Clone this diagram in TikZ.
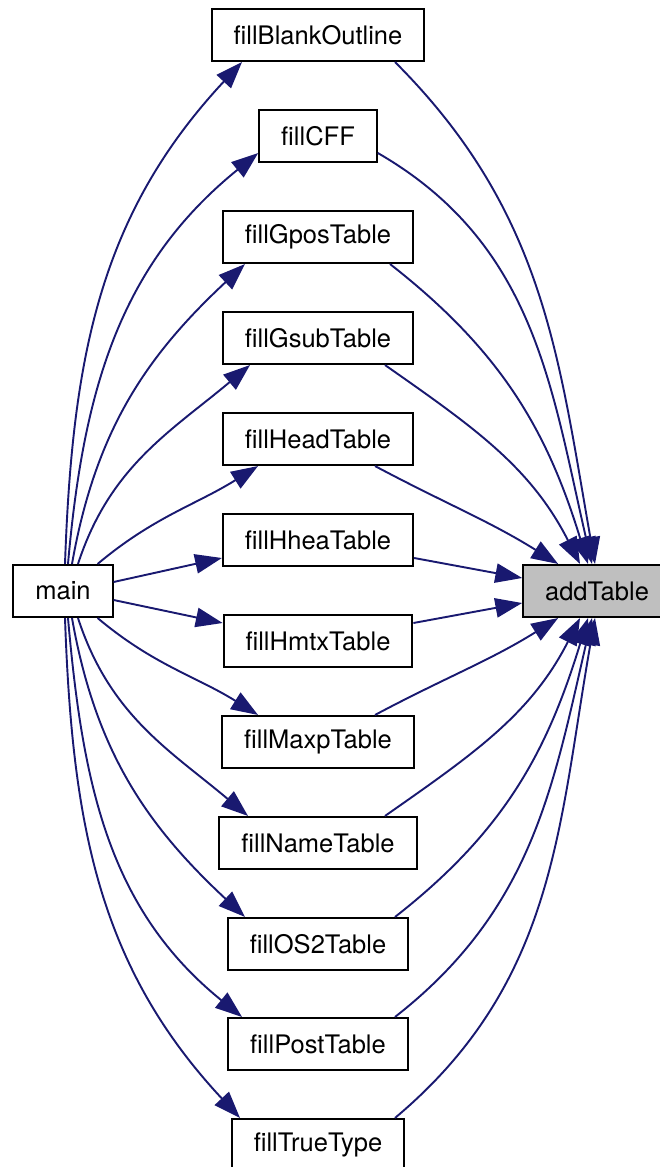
\documentclass[tikz,border=0pt]{standalone}
\usepackage{fontspec}
\setmainfont{TeX Gyre Heros}
\usetikzlibrary{arrows.meta,calc}
\definecolor{edgeblue}{HTML}{191970}
\definecolor{hlgray}{HTML}{BFBFBF}
\begin{document}
\begin{tikzpicture}
  [x=0.392pt,y=0.392pt,
  fn/.style={draw,line width=0.8pt,inner xsep=8.6pt,inner ysep=0pt,
    minimum height=20.4pt,font=\fontsize{10}{12}\selectfont},
  hl/.style={fn,fill=hlgray},
  call/.style={draw=edgeblue,line width=0.75pt,
    -{Triangle[length=10.5pt,width=7.6pt]}}]
  \useasboundingbox (0,0) rectangle (660,-1167);
  % caller, callee
  \node[fn] (main) at (63,-591) {main};
  \node[hl] (addTable) at (597,-591) {addTable};
  % middle column
  \node[fn] (fillBlankOutline) at (318,-35) {fillBlankOutline};
  \node[fn] (fillCFF) at (318,-136) {fillCFF};
  \node[fn] (fillGposTable) at (318,-237) {fillGposTable};
  \node[fn] (fillGsubTable) at (318,-338) {fillGsubTable};
  \node[fn] (fillHeadTable) at (318,-439) {fillHeadTable};
  \node[fn] (fillHheaTable) at (318,-540) {fillHheaTable};
  \node[fn] (fillHmtxTable) at (318,-641) {fillHmtxTable};
  \node[fn] (fillMaxpTable) at (318,-742) {fillMaxpTable};
  \node[fn] (fillNameTable) at (318,-843) {fillNameTable};
  \node[fn] (fillOS2Table) at (318,-944) {fillOS2Table};
  \node[fn] (fillPostTable) at (318,-1044) {fillPostTable};
  \node[fn] (fillTrueType) at (318,-1145) {fillTrueType};
  % main -> fill*
  \draw[call] ($(main.north)+(2,0)$) to[out=88,in=227] ($(fillBlankOutline.south)+(-76,0)$);
  \draw[call] ($(main.north)+(5,0)$) to[out=85,in=219] ($(fillCFF.west)+(0,-17)$);
  \draw[call] ($(main.north)+(9,0)$) to[out=80,in=223] ($(fillGposTable.south)+(-73,0)$);
  \draw[call] ($(main.north)+(15,0)$) to[out=72,in=220] ($(fillGsubTable.south)+(-68,0)$);
  \draw[call] ($(main.north east)+(-16,0)$) to[out=40,in=212] ($(fillHeadTable.south)+(-60,0)$);
  \draw[call] ($(main.east)+(0,9)$) -- ($(fillHheaTable.west)+(0,-18)$);
  \draw[call] ($(main.east)+(0,-9)$) -- ($(fillHmtxTable.west)+(0,18)$);
  \draw[call] ($(main.south east)+(-16,0)$) to[out=-40,in=148] ($(fillMaxpTable.north)+(-60,0)$);
  \draw[call] ($(main.south)+(15,0)$) to[out=-72,in=140] ($(fillNameTable.north)+(-70,0)$);
  \draw[call] ($(main.south)+(9,0)$) to[out=-80,in=137] ($(fillOS2Table.north)+(-73,0)$);
  \draw[call] ($(main.south)+(5,0)$) to[out=-85,in=141] ($(fillPostTable.north)+(-76,0)$);
  \draw[call] ($(main.south)+(2,0)$) to[out=-88,in=133] ($(fillTrueType.north)+(-78,0)$);
  % fill* -> addTable
  \draw[call] ($(fillBlankOutline.south)+(77,0)$) to[out=-45,in=100] ($(addTable.north)+(-2,0)$);
  \draw[call] ($(fillCFF.east)+(0,-17)$) to[out=-30,in=103] ($(addTable.north)+(-5,0)$);
  \draw[call] ($(fillGposTable.south)+(72,0)$) to[out=-38,in=107] ($(addTable.north)+(-9,0)$);
  \draw[call] ($(fillGsubTable.south)+(67,0)$) to[out=-35,in=117] ($(addTable.north)+(-17,0)$);
  \draw[call] ($(fillHeadTable.south)+(57,0)$) to[out=-28,in=148] ($(addTable.north west)+(36,0)$);
  \draw[call] ($(fillHheaTable.east)+(0,-18)$) -- ($(addTable.west)+(0,13)$);
  \draw[call] ($(fillHmtxTable.east)+(0,18)$) -- ($(addTable.west)+(0,-12)$);
  \draw[call] ($(fillMaxpTable.north)+(57,0)$) to[out=28,in=-148] ($(addTable.south west)+(36,0)$);
  \draw[call] ($(fillNameTable.north)+(67,0)$) to[out=35,in=-117] ($(addTable.south)+(-17,0)$);
  \draw[call] ($(fillOS2Table.north)+(77,0)$) to[out=38,in=-107] ($(addTable.south)+(-9,0)$);
  \draw[call] ($(fillPostTable.north)+(77,0)$) to[out=38,in=-103] ($(addTable.south)+(-5,0)$);
  \draw[call] ($(fillTrueType.north)+(77,0)$) to[out=40,in=-100] ($(addTable.south)+(-2,0)$);
\end{tikzpicture}
\end{document}
